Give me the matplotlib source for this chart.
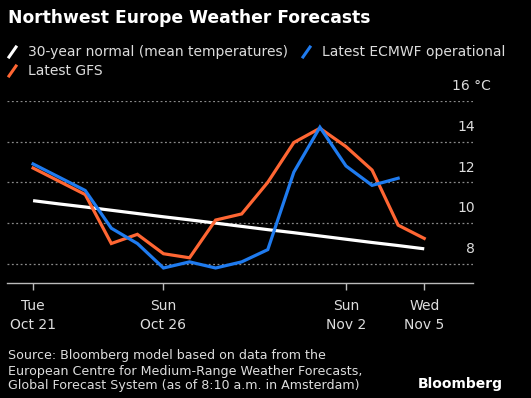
import matplotlib.pyplot as plt
from matplotlib.lines import Line2D
from matplotlib.transforms import blended_transform_factory

# days since Tue Oct 21
days = list(range(16))
normal = [11.1, 10.94, 10.79, 10.63, 10.47, 10.31, 10.16, 10.0, 9.84, 9.68, 9.53, 9.37, 9.21, 9.05, 8.9, 8.74]
ecmwf_days = list(range(15))
ecmwf = [12.9, 12.25, 11.6, 9.75, 9.0, 7.8, 8.1, 7.8, 8.1, 8.7, 12.5, 14.7, 12.8, 11.85, 12.2]
gfs = [12.7, 12.05, 11.4, 9.0, 9.45, 8.5, 8.3, 10.15, 10.45, 12.0, 13.95, 14.65, 13.75, 12.6, 9.9, 9.25]

tick_days = [0, 5, 12, 15]
tick_labels = ['Tue\nOct 21', 'Sun\nOct 26', 'Sun\nNov 2', 'Wed\nNov 5']
y_ticks = [8, 10, 12, 14, 16]

BG = 'black'
WHITE = '#ffffff'
BLUE = '#1f7bef'
ORANGE = '#ff6633'
GRID = '#8a8a8a'

W, H = 531, 398
fig = plt.figure(figsize=(W / 100, H / 100), dpi=100, facecolor=BG)
ax = fig.add_axes([7 / W, 1 - 283.3 / H, 466 / W, (283.3 - 100.7) / H])
ax.set_facecolor(BG)

ax.set_xlim(-1.0, 16.87)
ax.set_ylim(7.05, 16.0)

for v in y_ticks:
    ax.axhline(v, color=GRID, lw=0.9, ls=(0, (1.5, 2)), zorder=1)

ax.plot(days, normal, color=WHITE, lw=2.3, zorder=3, solid_capstyle='butt')
ax.plot(days, gfs, color=ORANGE, lw=2.3, zorder=4, solid_joinstyle='miter')
ax.plot(ecmwf_days, ecmwf, color=BLUE, lw=2.3, zorder=5, solid_joinstyle='miter')

for s in ['top', 'right', 'left']:
    ax.spines[s].set_visible(False)
ax.spines['bottom'].set_color('#bbbbbb')
ax.spines['bottom'].set_linewidth(1.0)

ax.set_xticks(tick_days)
ax.set_xticklabels(tick_labels, color='#dddddd', fontsize=10, linespacing=1.45)
ax.tick_params(axis='x', colors='#bbbbbb', length=5, width=1, pad=6, labelcolor='#dddddd')
ax.set_yticks([])

# y labels sit above gridlines, on the right
tr = blended_transform_factory(fig.transFigure, ax.transData)
for v in y_ticks:
    txt = str(v) if v != 16 else '16 °C'
    xpos = 475 / W if v != 16 else 491 / W
    ax.text(xpos, v + 0.72, txt, transform=tr, ha='right', va='center',
            color='#dddddd', fontsize=10)

# title
fig.text(8 / W, 1 - 18 / H, 'Northwest Europe Weather Forecasts', color=WHITE,
         fontsize=12.3, fontweight='bold', ha='left', va='center')

# legend
def legend_item(x, y, color, label):
    fig.add_artist(Line2D([(x) / W, (x + 7) / W], [1 - (y + 5) / H, 1 - (y - 5) / H],
                          color=color, lw=2.2, transform=fig.transFigure))
    fig.text((x + 19) / W, 1 - y / H, label, color='#dddddd', fontsize=10,
             ha='left', va='center')

legend_item(9, 52, WHITE, '30-year normal (mean temperatures)')
legend_item(303, 52, BLUE, 'Latest ECMWF operational')
legend_item(9, 71, ORANGE, 'Latest GFS')

# footer
fig.text(8 / W, 1 - 371 / H,
         'Source: Bloomberg model based on data from the\n'
         'European Centre for Medium-Range Weather Forecasts,\n'
         'Global Forecast System (as of 8:10 a.m. in Amsterdam)',
         color='#dddddd', fontsize=9.1, ha='left', va='center', linespacing=1.2)
fig.text(503 / W, 1 - 384 / H, 'Bloomberg', color=WHITE, fontsize=10,
         fontweight='bold', ha='right', va='center')

fig.savefig('out.png', dpi=100, facecolor=BG)
